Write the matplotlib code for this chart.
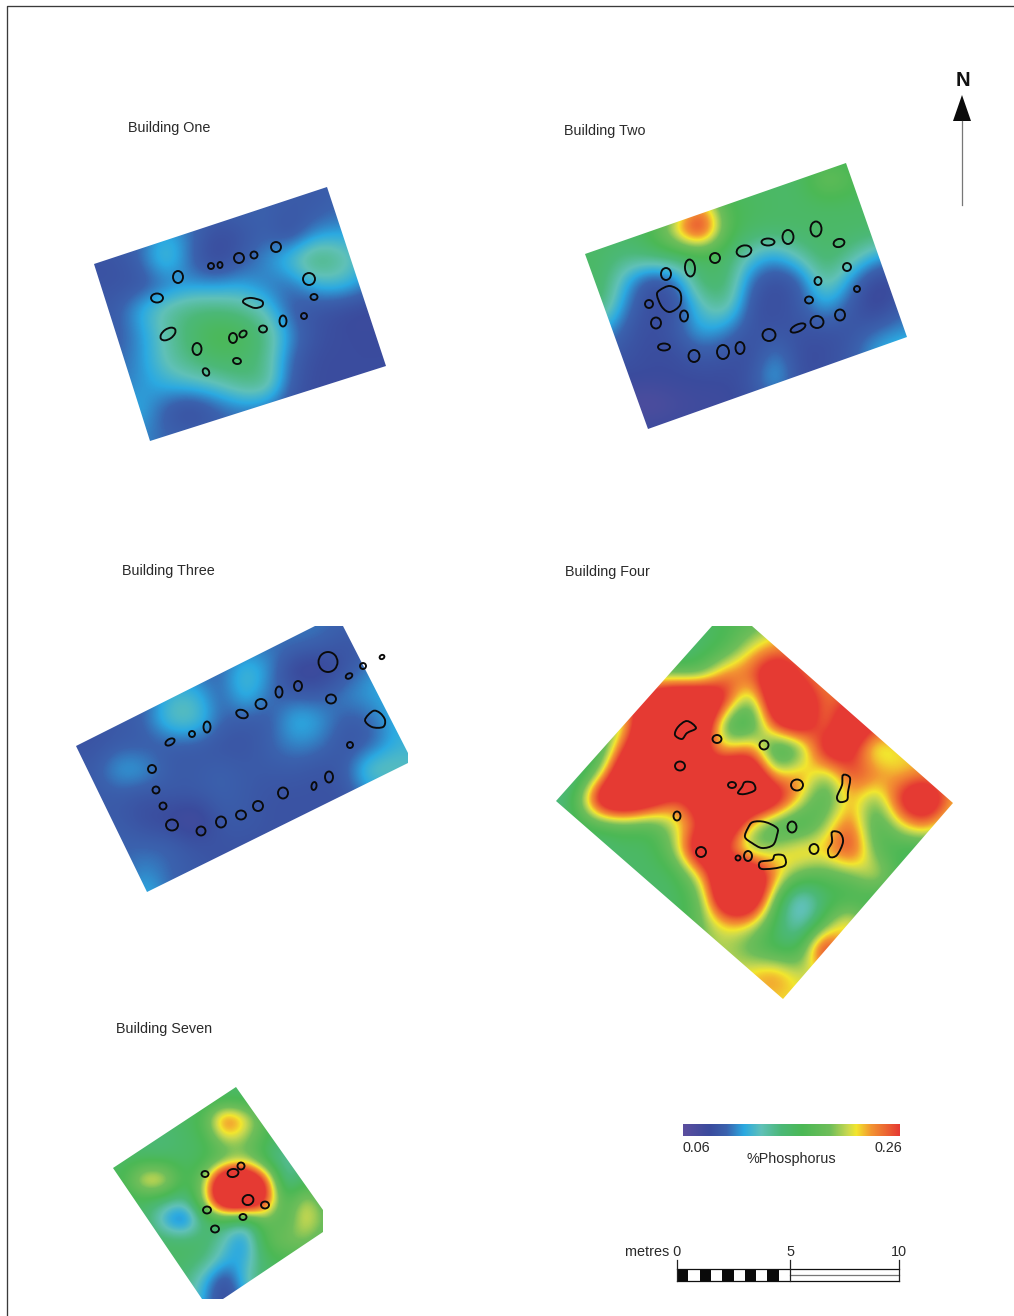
import matplotlib
matplotlib.use("Agg")
import matplotlib.pyplot as plt
import numpy as np
from matplotlib.colors import LinearSegmentedColormap
from matplotlib.patches import Ellipse, PathPatch, Polygon, Rectangle
from matplotlib.path import Path

plt.rcParams["font.family"] = ["Liberation Sans", "DejaVu Sans"]

# phosphorus readings in hundredths of a percent, sampled on a regular grid over each plot
# values past 26 just saturate the red end, they keep the red patches flat
ONE_X0, ONE_Y0, ONE_STEP = 90, 185, 25
ONE_P = [
    [9.5, 9.5, 9.5, 9.5, 9.5, 9.5, 9.5, 9.5, 9.5, 9.5, 10, 10, 10],
    [9.5, 9.5, 9.5, 10, 10, 10, 10, 10, 9.5, 9.5, 10, 10, 10],
    [9.5, 9.5, 10, 12, 10.5, 8.5, 9, 10, 8.5, 11, 11.5, 11.5, 11],
    [9, 9, 10, 13.5, 10, 8, 9.5, 11, 13, 16, 14.5, 12, 11],
    [9, 9, 9, 10, 11, 11, 11.5, 10.5, 10, 12, 12.5, 11, 9.5],
    [9.5, 9.5, 12, 14, 15, 15, 14.5, 13, 9.5, 9, 8.5, 8, 8.5],
    [9.5, 9.5, 11, 13.5, 15.5, 17.5, 17, 15, 11, 9, 8.5, 8.5, 8.5],
    [10, 10, 11, 13.5, 15, 16, 16, 14.5, 10, 8.5, 8.5, 8.5, 8.5],
    [10, 10.5, 11, 12, 12.5, 13, 14.5, 15, 9.5, 8.5, 8.5, 8.5, 8.5],
    [11, 11.5, 12, 9.5, 8, 9.5, 10.5, 10, 9, 8.5, 8.5, 8.5, 8.5],
    [11, 11, 11, 10, 10, 10, 10, 10, 10, 9, 9, 9, 9],
]

TWO_X0, TWO_Y0, TWO_STEP = 575, 155, 25
TWO_P = [
    [16, 16, 16, 16, 16, 16, 16, 16, 16, 16, 16, 16, 16, 16, 16],
    [16, 16, 16, 16, 16, 17, 16, 16, 16, 16, 20, 18, 16, 16, 16],
    [16, 16, 16, 16, 18, 24, 17, 16.5, 16, 16, 16, 16, 16, 16, 16],
    [16, 16, 16, 17, 23, 30, 18, 16, 16, 16, 16, 16, 16, 16, 16],
    [16, 16, 15, 16, 16, 16, 16, 13, 11.5, 14, 16, 14.5, 12, 11, 11],
    [16, 16, 12, 8.5, 10, 16, 16, 10, 8.5, 9.5, 15, 11, 8, 8.5, 9],
    [16, 16, 10.5, 8.5, 8.5, 13, 15, 9, 8.5, 9.5, 12, 9.5, 7.5, 9.5, 10],
    [12, 12, 9.5, 8.5, 9.5, 12, 11, 9, 9, 9, 9, 9, 10, 11, 11],
    [9.5, 9.5, 9, 8.5, 8.5, 9.5, 9, 8.5, 11, 8.5, 8.5, 9.5, 12, 13, 13],
    [8.5, 8.5, 8.5, 8.5, 8.5, 8.5, 8.5, 9, 12.5, 8.5, 9, 9.5, 10, 10, 10],
    [8, 7, 7, 6.5, 7.5, 8, 8, 9, 9, 9, 9, 9, 9, 9, 9],
    [8.5, 8.5, 8.5, 8.5, 8.5, 8.5, 8.5, 9, 9, 9, 9, 9, 9, 9, 9],
    [8.5, 8.5, 8.5, 8.5, 8.5, 8.5, 8.5, 9, 9, 9, 9, 9, 9, 9, 9],
]

THREE_X0, THREE_Y0, THREE_STEP = 70, 620, 25
THREE_P = [
    [9.5, 9.5, 9.5, 9.5, 9.5, 9.5, 9.5, 9.5, 9.5, 10.5, 10.5, 10, 10, 10, 10],
    [9.5, 9.5, 9.5, 9.5, 9.5, 9.5, 9.5, 10, 10.5, 10.5, 10, 9, 9.5, 10, 10],
    [9.5, 9.5, 9.5, 9.5, 10, 10, 10, 13, 11, 7.5, 7.5, 9, 11, 12, 12],
    [9.5, 9.5, 9.5, 9.5, 12.5, 12.5, 9.5, 13, 10, 9.5, 9.5, 11, 11.5, 12, 12],
    [9, 9, 9.5, 10, 13.5, 13.5, 10, 9.5, 9.5, 12.5, 11.5, 9.5, 10, 12, 12],
    [9, 9, 9.5, 9.5, 9.5, 9.5, 9, 9, 10, 11, 10.5, 9, 9.5, 12, 12],
    [9.5, 9.5, 12, 11.5, 9.5, 9.5, 10, 9.5, 9.5, 9.5, 9, 9.5, 14, 13.5, 13],
    [9.5, 9.5, 9.5, 9, 9.5, 9.5, 10, 9.5, 9, 9, 9, 9, 11, 11, 11],
    [9.5, 9.5, 9.5, 8.5, 8, 7, 9.5, 9.5, 9, 9, 9, 9, 9, 9, 9],
    [10, 10, 10, 10, 10, 9, 9, 9, 9, 9, 9, 9, 9, 9, 9],
    [10, 10, 10, 11, 10, 9.5, 9, 9, 9, 9, 9, 9, 9, 9, 9],
    [10, 10, 10, 12.5, 10, 9.5, 9, 9, 9, 9, 9, 9, 9, 9, 9],
]

FOUR_X0, FOUR_Y0, FOUR_STEP = 550, 625, 25
FOUR_P = [
    [16, 16, 16, 16, 16, 16, 16, 17, 18, 20, 22, 22, 22, 22, 22, 22, 22, 22],
    [16, 16, 16, 16, 16, 14, 16, 17, 22, 24, 24, 24, 24, 24, 24, 24, 24, 24],
    [16, 16, 16, 16, 19, 19, 18, 25, 25, 31, 25, 23, 23, 23, 23, 23, 23, 23],
    [16, 16, 16, 24, 31, 33, 34, 28, 17, 33, 30, 24, 26, 25, 25, 25, 25, 25],
    [16, 16, 18, 21, 34, 34, 33, 16, 15, 27, 31, 22, 32, 27, 26, 26, 26, 26],
    [16, 15, 16, 27, 34, 34, 28, 21, 26, 14, 17, 30, 28, 19, 22, 22, 22, 22],
    [14, 14, 20, 34, 34, 34, 28, 33, 33, 21, 25, 19, 26, 25, 22, 24, 22, 22],
    [14, 17, 32, 34, 30, 24, 30, 34, 34, 31, 22, 16, 24, 18, 28, 32, 24, 20],
    [15, 16, 17, 18, 17, 21, 25, 33, 21, 16, 15, 20, 26, 16, 22, 25, 20, 20],
    [16, 16, 15, 16, 16, 20, 33, 25, 18, 21, 24, 23, 28, 18, 16, 16, 16, 16],
    [16, 16, 16, 16, 16, 16, 22, 33, 33, 24, 19, 18, 19, 23, 17, 15, 16, 16],
    [16, 16, 16, 16, 16, 16, 18, 33, 33, 18, 10, 16, 16, 16, 16, 16, 16, 16],
    [16, 16, 16, 16, 16, 16, 19, 22, 22, 16, 12, 18, 26, 16, 16, 16, 16, 16],
    [16, 16, 16, 16, 16, 16, 20, 21, 18, 16, 16, 32, 18, 16, 16, 16, 16, 16],
    [22, 22, 22, 22, 22, 22, 21, 21, 23, 25, 21, 21, 20, 20, 20, 20, 20, 20],
    [22, 22, 22, 22, 22, 22, 22, 22, 22, 22, 22, 22, 22, 22, 22, 22, 22, 22],
]

SEVEN_X0, SEVEN_Y0, SEVEN_STEP = 105, 1080, 20
SEVEN_P = [
    [16, 16, 16, 16, 16, 16, 16, 16, 16, 16, 16, 16],
    [16, 16, 16, 16, 16, 16, 16, 16, 16, 16, 16, 16],
    [16, 16, 16, 16, 16, 18, 27, 23, 18, 16, 16, 16],
    [16, 16, 15, 15, 16, 16.5, 21, 20, 17, 15, 16, 16],
    [16, 16, 16, 16, 16, 16.5, 18, 20, 16, 13, 16, 16],
    [17, 17, 24, 23, 16, 20, 34, 34, 27, 13, 16, 16],
    [16, 16, 16, 15, 14, 21, 34, 34, 28, 16, 22, 18],
    [16, 16, 16, 11, 8, 16, 16, 14, 19, 17, 23, 19],
    [16, 16, 16, 16, 16, 16, 13, 10, 18, 20, 20, 18],
    [16, 16, 16, 16, 16, 15, 12, 11.5, 16, 17, 17, 17],
    [16, 16, 16, 16, 15, 12, 8, 13, 16, 16, 16, 16],
    [16, 16, 16, 16, 15, 11, 8, 11, 16, 16, 16, 16],
]

# plot outlines, page pixels
ONE_OUTLINE = [(94, 264), (327, 187), (386, 366), (150, 441)]
TWO_OUTLINE = [(585, 254), (846, 163), (907, 337), (648, 429)]
THREE_OUTLINE = [(76, 746), (315, 626), (343, 626), (408, 753), (408, 763), (147, 892)]
FOUR_OUTLINE = [(556, 801), (712, 626), (752, 626), (953, 803), (783, 999)]
SEVEN_OUTLINE = [(113, 1168), (236, 1087), (323, 1210), (323, 1232), (223, 1299), (202, 1299)]

# posthole outlines: x, y, width, height, angle
ONE_HOLES = [
    (178, 277, 10, 12, 0), (157, 298, 12, 9, 0), (168, 334, 17, 10, -35), (197, 349, 9, 12, 0),
    (206, 372, 6, 8, -30), (237, 361, 8, 6, 10), (233, 338, 8, 10, 0), (243, 334, 8, 6, -40),
    (263, 329, 8, 7, 0), (283, 321, 7, 11, 0), (304, 316, 6, 6, 0), (314, 297, 7, 6, 0),
    (309, 279, 12, 12, 0), (276, 247, 10, 10, 0), (254, 255, 7, 7, 0), (239, 258, 10, 10, 0),
    (220, 265, 5, 6, 0), (211, 266, 6, 6, 0),
]
TWO_HOLES = [
    (666, 274, 10, 12, 0), (649, 304, 8, 8, 0), (656, 323, 10, 11, 0), (684, 316, 8, 11, 0),
    (690, 268, 10, 17, -5), (715, 258, 10, 10, 0), (744, 251, 15, 11, -15), (768, 242, 13, 7, 0),
    (788, 237, 11, 14, 0), (816, 229, 11, 15, 0), (839, 243, 11, 8, -15), (847, 267, 8, 8, 0),
    (818, 281, 7, 8, 0), (857, 289, 6, 6, 0), (809, 300, 8, 7, 0), (840, 315, 10, 11, 0),
    (817, 322, 13, 12, 0), (798, 328, 16, 7, -25), (769, 335, 13, 12, 0), (740, 348, 9, 12, 0),
    (723, 352, 12, 14, 0), (694, 356, 11, 12, 0), (664, 347, 12, 7, 0),
]
THREE_HOLES = [
    (328, 662, 19, 20, 0), (363, 666, 6, 6, 0), (382, 657, 5, 4, -30), (349, 676, 7, 5, -30),
    (298, 686, 8, 10, 0), (279, 692, 7, 11, 0), (331, 699, 10, 9, 0), (261, 704, 11, 10, 0),
    (242, 714, 12, 8, 20), (207, 727, 7, 11, 0), (192, 734, 6, 6, 0), (170, 742, 10, 6, -30),
    (350, 745, 6, 6, 0), (152, 769, 8, 8, 0), (156, 790, 7, 7, 0), (163, 806, 7, 7, 0),
    (329, 777, 8, 11, 0), (314, 786, 5, 8, 10), (283, 793, 10, 11, 0), (258, 806, 10, 10, 0),
    (241, 815, 10, 9, 0), (221, 822, 10, 11, 0), (201, 831, 9, 9, 0), (172, 825, 12, 11, 0),
]
FOUR_HOLES = [
    (717, 739, 9, 8, 0), (764, 745, 9, 9, 0), (680, 766, 10, 9, 0), (732, 785, 8, 6, 0),
    (797, 785, 12, 11, 0), (677, 816, 7, 9, 0), (792, 827, 9, 11, 0), (814, 849, 9, 10, 0),
    (701, 852, 10, 10, 0), (738, 858, 5, 5, 0), (748, 856, 8, 10, 0),
]
SEVEN_HOLES = [
    (241, 1166, 7, 7, 0), (233, 1173, 11, 8, -10), (205, 1174, 7, 6, 0), (248, 1200, 11, 10, -20),
    (265, 1205, 8, 7, 0), (207, 1210, 8, 7, 0), (243, 1217, 7, 6, 0), (215, 1229, 8, 7, 0),
]

# irregular features, page pixels
BLOBS = [
    [(245, 299), (252, 298), (262, 301), (262, 306), (255, 308), (247, 305), (243, 302)],
    [(660, 290), (670, 286), (680, 292), (680, 305), (670, 312), (662, 307), (657, 295)],
    [(365, 720), (373, 711), (380, 713), (385, 720), (383, 727), (372, 727)],
    [(687, 721), (696, 728), (687, 733), (682, 739), (675, 735), (678, 727)],
    [(745, 782), (753, 783), (755, 790), (745, 794), (738, 793), (742, 787)],
    [(843, 775), (850, 778), (848, 792), (847, 800), (840, 802), (837, 797), (842, 785)],
    [(748, 828), (753, 822), (765, 822), (777, 828), (777, 835), (773, 845), (762, 848), (752, 843), (745, 837)],
    [(832, 832), (840, 833), (843, 842), (837, 855), (830, 857), (828, 850), (832, 842)],
    [(760, 862), (772, 860), (775, 855), (784, 856), (784, 866), (762, 869)],
]

CMAP_STOPS = [
    (0.00, "#5c4f9f"), (0.12, "#3b4b9d"), (0.20, "#3a62ae"), (0.28, "#2ba9e1"), (0.36, "#60c1b8"),
    (0.45, "#4cb878"), (0.55, "#4bb855"), (0.68, "#6fbe5a"), (0.76, "#c8d850"), (0.80, "#f2e62e"),
    (0.87, "#f39432"), (1.00, "#e53a33"),
]
P_MIN, P_MAX = 6, 26

TITLES = [
    ("Building One", 128, 128), ("Building Two", 564, 131), ("Building Three", 122, 571),
    ("Building Four", 565, 572), ("Building Seven", 116, 1029),
]
SCALE_LABELS = [("5", 790), ("10", 899)]
INK = "#2a2a2a"


def smooth_path(points):
    # closed Catmull-Rom through the points, written as cubic beziers
    pts = np.array(points, dtype=float)
    n = len(pts)
    verts = [pts[0]]
    codes = [Path.MOVETO]
    for i in range(n):
        p0, p1, p2, p3 = pts[i - 1], pts[i], pts[(i + 1) % n], pts[(i + 2) % n]
        verts += [p1 + (p2 - p0) / 6, p2 - (p3 - p1) / 6, p2]
        codes += [Path.CURVE4] * 3
    return Path(verts, codes)


def draw_field(ax, values, x0, y0, step, outline, cmap):
    grid = np.array(values, dtype=float)
    ny, nx = grid.shape
    extent = (x0 - step / 2, x0 + (nx - 0.5) * step, y0 + (ny - 0.5) * step, y0 - step / 2)
    im = ax.imshow(grid, extent=extent, cmap=cmap, vmin=P_MIN, vmax=P_MAX, origin="upper",
                   interpolation="bicubic", interpolation_stage="data", aspect="auto", zorder=1)
    clip = Polygon(outline, closed=True, transform=ax.transData, fc="none", ec="none")
    ax.add_patch(clip)
    im.set_clip_path(clip)


def draw_holes(ax, holes):
    for x, y, w, h, a in holes:
        ax.add_patch(Ellipse((x, y), w, h, angle=a, fc="none", ec="#0a0a0a", lw=1.35, zorder=3))


fig = plt.figure(figsize=(10.14, 13.16), dpi=100)
ax = fig.add_axes([0, 0, 1, 1])
cmap = LinearSegmentedColormap.from_list("phosphorus", CMAP_STOPS, N=512)

draw_field(ax, ONE_P, ONE_X0, ONE_Y0, ONE_STEP, ONE_OUTLINE, cmap)
draw_field(ax, TWO_P, TWO_X0, TWO_Y0, TWO_STEP, TWO_OUTLINE, cmap)
draw_field(ax, THREE_P, THREE_X0, THREE_Y0, THREE_STEP, THREE_OUTLINE, cmap)
draw_field(ax, FOUR_P, FOUR_X0, FOUR_Y0, FOUR_STEP, FOUR_OUTLINE, cmap)
draw_field(ax, SEVEN_P, SEVEN_X0, SEVEN_Y0, SEVEN_STEP, SEVEN_OUTLINE, cmap)

for holes in (ONE_HOLES, TWO_HOLES, THREE_HOLES, FOUR_HOLES, SEVEN_HOLES):
    draw_holes(ax, holes)
for blob in BLOBS:
    ax.add_patch(PathPatch(smooth_path(blob), fc="none", ec="#0a0a0a", lw=1.35, zorder=3))

for label, x, y in TITLES:
    ax.text(x, y, label, fontsize=10.4, color=INK, ha="left", va="center")

# page frame
ax.plot([1014, 7, 7], [6, 6, 1316], color="#3a3a3a", lw=0.95, zorder=2)

# north arrow
ax.text(962.5, 81, "N", fontsize=14.5, fontweight="bold", color="#111111", ha="center", va="center")
ax.add_patch(Polygon([(953, 121), (962, 95), (971, 121)], closed=True, fc="#0a0a0a", ec="none"))
ax.plot([962, 962], [121, 205], color="#777777", lw=0.9)

# colour bar
ax.imshow(np.linspace(P_MIN, P_MAX, 256)[None, :], extent=(683, 900, 1136, 1124), cmap=cmap,
          vmin=P_MIN, vmax=P_MAX, aspect="auto", zorder=1)
ax.text(696.5, 1148, "0.06", fontsize=10.4, color=INK, ha="center", va="center")
ax.text(888, 1148, "0.26", fontsize=10.4, color=INK, ha="center", va="center")
ax.text(791.5, 1158.5, "%Phosphorus", fontsize=10.4, color=INK, ha="center", va="center")

# scale bar
SCALE_L, SCALE_M, SCALE_R = 677, 790, 899
seg = (SCALE_M - SCALE_L) / 10
for i in range(10):
    ax.add_patch(Rectangle((SCALE_L + i * seg, 1269), seg, 12, fc="#0a0a0a" if i % 2 == 0 else "white",
                           ec="none", zorder=2))
ax.plot([SCALE_L, SCALE_R], [1269, 1269], color="#111111", lw=0.9, zorder=3)
ax.plot([SCALE_L, SCALE_R], [1281, 1281], color="#111111", lw=0.9, zorder=3)
ax.plot([SCALE_M, SCALE_R], [1275, 1275], color="#777777", lw=0.9, zorder=3)
for x, top in ((SCALE_L, 1260), (SCALE_M, 1260), (SCALE_R, 1260)):
    ax.plot([x, x], [top, 1281], color="#222222", lw=0.9, zorder=3)
ax.text(681, 1252.5, "metres 0", fontsize=10.4, color=INK, ha="right", va="center")
for label, x in SCALE_LABELS:
    ax.text(x, 1252.5, label, fontsize=10.4, color=INK, ha="center", va="center")

ax.set_xlim(0, 1014)
ax.set_ylim(1316, 0)
ax.axis("off")
fig.savefig("out.png", dpi=100)
